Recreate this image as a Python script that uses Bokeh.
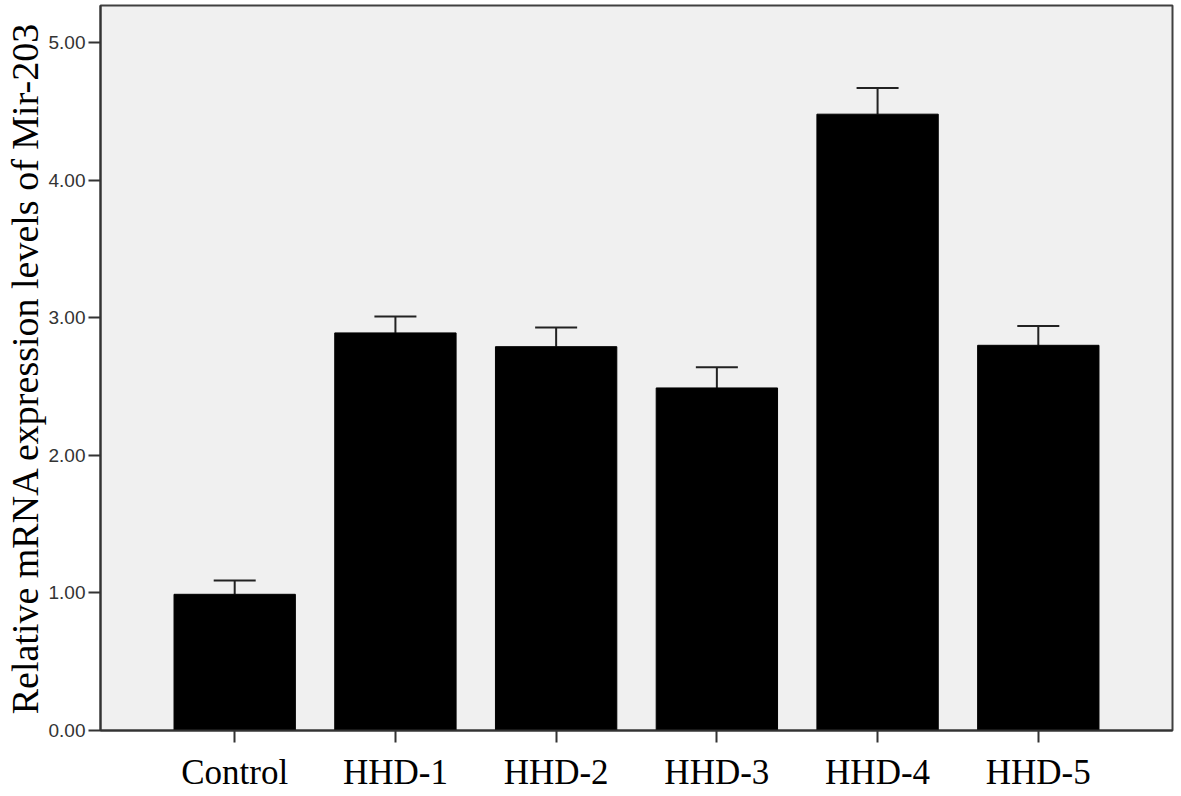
from bokeh.plotting import figure
from bokeh.models import ColumnDataSource, FactorRange, Range1d, Whisker, TeeHead, FixedTicker, NumeralTickFormatter
from bokeh.embed import file_html
from bokeh.resources import INLINE

groups = ["Control", "HHD-1", "HHD-2", "HHD-3", "HHD-4", "HHD-5"]
means = [0.99, 2.89, 2.79, 2.49, 4.48, 2.80]
errors = [0.10, 0.12, 0.14, 0.15, 0.19, 0.14]
y_ticks = [0, 1, 2, 3, 4, 5]

upper = [m + e for m, e in zip(means, errors)]
src = ColumnDataSource(data=dict(groups=groups, means=means, upper=upper))

p = figure(
    width=1178, height=794,
    x_range=FactorRange(factors=groups, range_padding=0.335, range_padding_units="absolute"),
    y_range=Range1d(0, 5.27),
    output_backend="svg", toolbar_location=None,
    min_border_top=5, min_border_right=6, min_border_left=10, min_border_bottom=10,
)

p.vbar(x="groups", top="means", width=0.755, source=src, fill_color="black", line_color="black")

wh = Whisker(base="groups", lower="means", upper="upper", source=src,
             line_color="#222222", line_width=2,
             upper_head=TeeHead(size=42, line_color="#222222", line_width=2),
             lower_head=None)
p.add_layout(wh)

p.background_fill_color = "#f0f0f0"
p.border_fill_color = "white"
p.outline_line_color = "#404040"
p.outline_line_width = 2
p.xgrid.visible = False
p.ygrid.visible = False

# y axis
p.yaxis.ticker = FixedTicker(ticks=y_ticks)
p.yaxis.formatter = NumeralTickFormatter(format="0.00")
p.yaxis.minor_tick_line_color = None
p.yaxis.major_tick_in = 0
p.yaxis.major_tick_out = 12
p.yaxis.major_tick_line_width = 2
p.yaxis.major_tick_line_color = "#333333"
p.yaxis.axis_line_width = 2
p.yaxis.axis_line_color = "#333333"
p.yaxis.major_label_text_font = "Liberation Sans"
p.yaxis.major_label_text_font_size = "19px"
p.yaxis.major_label_text_color = "#333333"
p.yaxis.major_label_standoff = 3
p.yaxis.axis_label = "Relative mRNA expression levels of Mir-203"
p.yaxis.axis_label_text_font = "Liberation Serif"
p.yaxis.axis_label_text_font_style = "normal"
p.yaxis.axis_label_text_font_size = "38px"
p.yaxis.axis_label_text_color = "black"
p.yaxis.axis_label_standoff = 0

# x axis
p.xaxis.major_tick_in = 0
p.xaxis.major_tick_out = 12
p.xaxis.major_tick_line_width = 2
p.xaxis.major_tick_line_color = "#333333"
p.xaxis.axis_line_width = 2
p.xaxis.axis_line_color = "#333333"
p.xaxis.major_label_text_font = "Liberation Serif"
p.xaxis.major_label_text_font_size = "35px"
p.xaxis.major_label_text_color = "black"
p.xaxis.major_label_standoff = 10

open("out.html", "w").write(file_html(p, INLINE))
